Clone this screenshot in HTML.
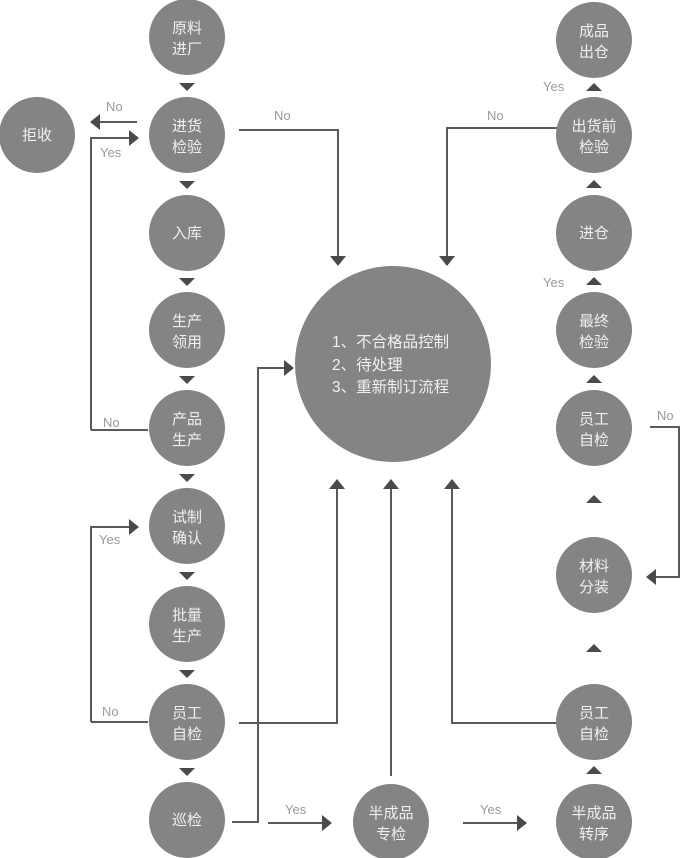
<!DOCTYPE html>
<html><head><meta charset="utf-8"><style>
html,body{margin:0;padding:0;background:#fff;}
svg{display:block;}
.c{fill:#848484;}
.t{fill:#f0f0f0;font-family:"Liberation Sans","Noto Sans CJK SC",sans-serif;font-size:15px;text-anchor:middle;}
.l{fill:#999;font-family:"Liberation Sans",sans-serif;font-size:13px;}
.ln{stroke:#5a5a5a;stroke-width:2;fill:none;}
.a{fill:#4a4a4a;}
</style></head><body>
<svg width="680" height="858" viewBox="0 0 680 858">
<g class="ln">
<path d="M137 122 H98"/>
<path d="M91 430 V138 H130"/>
<path d="M148 430 H91"/>
<path d="M239 130 H338 V258"/>
<path d="M557 128 H447 V258"/>
<path d="M91 722 V527 H130"/>
<path d="M148 722 H91"/>
<path d="M239 723 H337 V488"/>
<path d="M232 822 H258 V368 H286"/>
<path d="M391 776 V488"/>
<path d="M557 723 H452 V488"/>
<path d="M268 823 H323"/>
<path d="M463 823 H518"/>
<path d="M650 427 H679 V577 H656"/>
</g>
<g class="a">
<polygon points="90,122 100,114 100,130"/>
<polygon points="139,138 129,130 129,146"/>
<polygon points="139,527 129,519 129,535"/>
<polygon points="338,266 330,256 346,256"/>
<polygon points="447,266 439,256 455,256"/>
<polygon points="337,479 329,489 345,489"/>
<polygon points="391,479 383,489 399,489"/>
<polygon points="452,479 444,489 460,489"/>
<polygon points="294,368 284,360 284,376"/>
<polygon points="332,823 322,815 322,831"/>
<polygon points="527,823 517,815 517,831"/>
<polygon points="646,577 656,569 656,585"/>
<polygon points="179,83 195,83 187,91"/>
<polygon points="179,181 195,181 187,189"/>
<polygon points="179,278 195,278 187,286"/>
<polygon points="179,376 195,376 187,384"/>
<polygon points="179,474 195,474 187,482"/>
<polygon points="179,572 195,572 187,580"/>
<polygon points="179,670 195,670 187,678"/>
<polygon points="179,768 195,768 187,776"/>
<polygon points="586,91 602,91 594,83"/>
<polygon points="586,188 602,188 594,180"/>
<polygon points="586,285 602,285 594,277"/>
<polygon points="586,383 602,383 594,375"/>
<polygon points="586,503 602,503 594,495"/>
<polygon points="586,652 602,652 594,644"/>
<polygon points="586,774 602,774 594,766"/>
</g>
<text class="l" x="106" y="111">No</text>
<text class="l" x="100" y="157">Yes</text>
<text class="l" x="103" y="427">No</text>
<text class="l" x="274" y="120">No</text>
<text class="l" x="487" y="120">No</text>
<text class="l" x="99" y="544">Yes</text>
<text class="l" x="102" y="716">No</text>
<text class="l" x="285" y="814">Yes</text>
<text class="l" x="480" y="814">Yes</text>
<text class="l" x="543" y="91">Yes</text>
<text class="l" x="543" y="287">Yes</text>
<text class="l" x="657" y="420">No</text>
<g>
<circle class="c" cx="187" cy="37" r="38"/>
<circle class="c" cx="187" cy="135" r="38"/>
<circle class="c" cx="37" cy="135" r="38"/>
<circle class="c" cx="187" cy="233" r="38"/>
<circle class="c" cx="187" cy="330" r="38"/>
<circle class="c" cx="187" cy="428" r="38"/>
<circle class="c" cx="187" cy="526" r="38"/>
<circle class="c" cx="187" cy="624" r="38"/>
<circle class="c" cx="187" cy="722" r="38"/>
<circle class="c" cx="187" cy="820" r="38"/>
<circle class="c" cx="391" cy="822" r="38"/>
<circle class="c" cx="594" cy="822" r="38"/>
<circle class="c" cx="594" cy="722" r="38"/>
<circle class="c" cx="594" cy="575" r="38"/>
<circle class="c" cx="594" cy="428" r="38"/>
<circle class="c" cx="594" cy="330" r="38"/>
<circle class="c" cx="594" cy="233" r="38"/>
<circle class="c" cx="594" cy="135" r="38"/>
<circle class="c" cx="594" cy="40" r="38"/>
<circle class="c" cx="393" cy="364" r="98"/>
</g>
<g class="t">
<text x="187" y="33">原料</text><text x="187" y="54">进厂</text>
<text x="187" y="131">进货</text><text x="187" y="152">检验</text>
<text x="37" y="140">拒收</text>
<text x="187" y="238">入库</text>
<text x="187" y="326">生产</text><text x="187" y="347">领用</text>
<text x="187" y="424">产品</text><text x="187" y="445">生产</text>
<text x="187" y="522">试制</text><text x="187" y="543">确认</text>
<text x="187" y="620">批量</text><text x="187" y="641">生产</text>
<text x="187" y="718">员工</text><text x="187" y="739">自检</text>
<text x="187" y="825">巡检</text>
<text x="391" y="818">半成品</text><text x="391" y="839">专检</text>
<text x="594" y="818">半成品</text><text x="594" y="839">转序</text>
<text x="594" y="718">员工</text><text x="594" y="739">自检</text>
<text x="594" y="571">材料</text><text x="594" y="592">分装</text>
<text x="594" y="424">员工</text><text x="594" y="445">自检</text>
<text x="594" y="326">最终</text><text x="594" y="347">检验</text>
<text x="594" y="238">进仓</text>
<text x="594" y="131">出货前</text><text x="594" y="152">检验</text>
<text x="594" y="36">成品</text><text x="594" y="57">出仓</text>
</g>
<g class="t" style="text-anchor:start;font-size:15.5px">
<text x="332" y="347">1、不合格品控制</text>
<text x="332" y="370">2、待处理</text>
<text x="332" y="392">3、重新制订流程</text>
</g>
</svg>
</body></html>
